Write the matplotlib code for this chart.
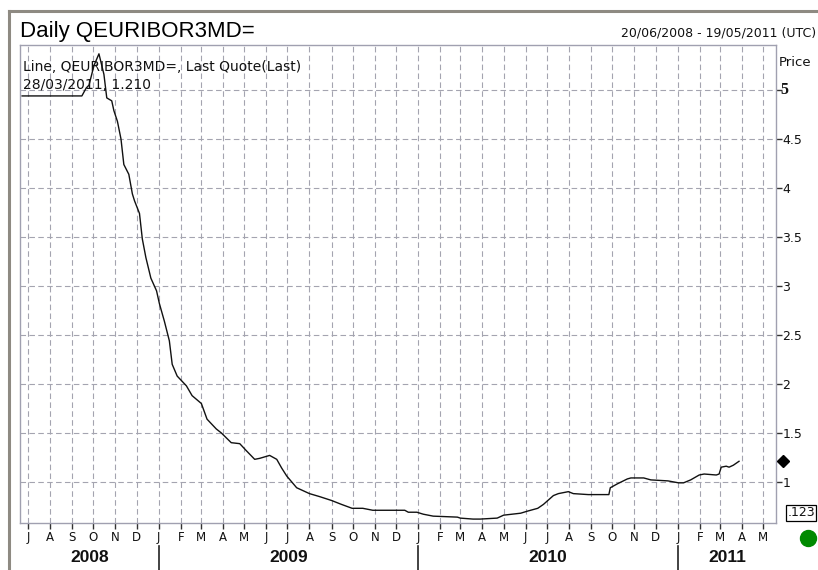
import matplotlib
matplotlib.use("Agg")
import matplotlib.pyplot as plt
import matplotlib.dates as mdates
from matplotlib.lines import Line2D
from matplotlib.transforms import blended_transform_factory
import datetime as dt

# ---------------- data ----------------
dates = ["2008-06-23", "2008-09-15", "2008-09-21", "2008-09-25", "2008-10-02",
         "2008-10-09", "2008-10-16", "2008-10-20", "2008-10-27", "2008-10-30",
         "2008-11-04", "2008-11-09", "2008-11-13", "2008-11-20", "2008-11-25",
         "2008-11-28", "2008-12-05", "2008-12-09", "2008-12-14", "2008-12-21",
         "2008-12-29", "2009-01-02", "2009-01-09", "2009-01-16", "2009-01-20",
         "2009-01-27", "2009-02-09", "2009-02-17", "2009-03-02", "2009-03-10",
         "2009-03-23", "2009-03-30", "2009-04-13", "2009-04-25", "2009-05-04",
         "2009-05-16", "2009-05-23", "2009-06-06", "2009-06-16", "2009-06-23",
         "2009-06-30", "2009-07-14", "2009-08-01", "2009-08-15", "2009-09-01",
         "2009-09-15", "2009-09-30", "2009-10-15", "2009-10-29", "2009-12-06",
         "2009-12-13", "2009-12-18", "2009-12-30", "2010-01-08", "2010-01-22",
         "2010-02-25", "2010-03-01", "2010-03-19", "2010-03-29", "2010-04-22",
         "2010-05-01", "2010-05-25", "2010-06-03", "2010-06-18", "2010-06-26",
         "2010-07-10", "2010-07-17", "2010-07-31", "2010-08-07", "2010-08-28",
         "2010-09-26", "2010-09-28", "2010-10-08", "2010-10-22", "2010-10-27",
         "2010-11-14", "2010-11-24", "2010-12-18", "2011-01-02", "2011-01-09",
         "2011-01-19", "2011-01-31", "2011-02-07", "2011-02-24", "2011-02-28",
         "2011-03-03", "2011-03-10", "2011-03-14", "2011-03-20", "2011-03-28"]
values = [4.94, 4.94, 5.02, 5.05, 5.25,
          5.37, 5.16, 4.92, 4.89, 4.79,
          4.68, 4.50, 4.24, 4.14, 3.94,
          3.87, 3.74, 3.48, 3.29, 3.08,
          2.95, 2.82, 2.64, 2.44, 2.20,
          2.08, 1.98, 1.88, 1.80, 1.64,
          1.54, 1.50, 1.40, 1.39, 1.32,
          1.23, 1.24, 1.27, 1.23, 1.14,
          1.06, 0.94, 0.88, 0.85, 0.81,
          0.77, 0.73, 0.73, 0.71, 0.71,
          0.71, 0.69, 0.69, 0.67, 0.65,
          0.64, 0.63, 0.62, 0.62, 0.63,
          0.66, 0.68, 0.70, 0.73, 0.77,
          0.86, 0.88, 0.90, 0.88, 0.87,
          0.87, 0.94, 0.98, 1.03, 1.04,
          1.04, 1.02, 1.01, 0.99, 0.99,
          1.02, 1.07, 1.08, 1.07, 1.08,
          1.15, 1.16, 1.15, 1.17, 1.21]

title = "Daily QEURIBOR3MD="
range_text = "20/06/2008 - 19/05/2011 (UTC)"
legend_line1 = "Line, QEURIBOR3MD=, Last Quote(Last)"
legend_line2 = "28/03/2011, 1.210"
y_ticks = [1, 1.5, 2, 2.5, 3, 3.5, 4, 4.5, 5]
y_tick_labels = ["1", "1.5", "2", "2.5", "3", "3.5", "4", "4.5", "5"]
years = [2008, 2009, 2010, 2011]
month_letters = ["J", "F", "M", "A", "M", "J", "J", "A", "S", "O", "N", "D"]
last_value = 1.21

# ---------------- figure ----------------
W, H = 818, 570
fig = plt.figure(figsize=(W / 100, H / 100), dpi=100)
fig.patch.set_facecolor("white")
plt.rcParams["font.family"] = ["Liberation Sans", "DejaVu Sans"]
SMALL = ["DejaVu Sans"]

def fx(x):
    return x / W

def fy(y):
    return 1 - y / H

L, R, T, B = 20, 776, 45, 523
ax = fig.add_axes([fx(L), fy(B), (R - L) / W, (B - T) / H])

x = [dt.datetime.strptime(d, "%Y-%m-%d") for d in dates]
ax.plot(x, values, color="#111111", lw=1.0, zorder=3)

xmin = dt.datetime(2008, 6, 20)
xmax = dt.datetime(2011, 5, 19)
ax.set_xlim(xmin, xmax)
ax.set_ylim(0.58, 5.46)

gridc = "#a4a4b0"
spinec = "#a0a0b0"
for s in ax.spines.values():
    s.set_color(spinec)
    s.set_linewidth(1.0)

# month ticks
months = []
d = dt.datetime(2008, 7, 1)
while d <= xmax:
    months.append(d)
    d = dt.datetime(d.year + (d.month // 12), d.month % 12 + 1, 1)
ax.set_xticks(months)
ax.set_xticklabels([month_letters[m.month - 1] for m in months])
ax.tick_params(axis="x", direction="out", length=4, width=1, color="#333333",
               pad=1.5, labelsize=8.5, labelcolor="#111111")
for lab in ax.get_xticklabels():
    lab.set_fontfamily(SMALL)

ax.yaxis.tick_right()
ax.set_yticks(y_ticks)
ax.set_yticklabels(["" if t == "5" else t for t in y_tick_labels])
ax.tick_params(axis="y", direction="out", length=4, width=1, color="#333333",
               pad=0.5, labelsize=9, labelcolor="#111111")
for lab in ax.get_yticklabels():
    lab.set_fontfamily(SMALL)
# the "5" label is drawn in a heavier face, as in the reference
bt_y = blended_transform_factory(ax.transAxes, ax.transData)
ax.text((780.5 - L) / (R - L), 5, "5", transform=bt_y, ha="left", va="center",
        fontsize=11.5, fontweight="bold", family=["Liberation Serif", "DejaVu Serif"],
        color="#111111", clip_on=False)

ax.grid(True, color=gridc, linestyle=(0, (5, 3)), lw=0.8, zorder=1)
ax.set_axisbelow(True)

# outer frame
framec = "#8e8a82"
fig.add_artist(Line2D([fx(9), fx(9)], [fy(11), fy(570)], color=framec, lw=2.2,
                      transform=fig.transFigure))
fig.add_artist(Line2D([fx(9), fx(818)], [fy(11), fy(11)], color=framec, lw=2.2,
                      transform=fig.transFigure))

# texts
fig.text(fx(20), fy(37), title, fontsize=16, ha="left", va="baseline", color="#000000")
fig.text(fx(816), fy(37), range_text, fontsize=9, ha="right", va="baseline",
         color="#111111", family=SMALL)
fig.text(fx(779), fy(62), "Price", fontsize=9.5, ha="left", va="center",
         color="#111111", family=SMALL)
fig.text(fx(23), fy(67), legend_line1, fontsize=10, ha="left", va="center",
         color="#111111", family=SMALL)
fig.text(fx(23), fy(85), legend_line2, fontsize=10, ha="left", va="center",
         color="#111111", family=SMALL)

# year labels and separators
bt = blended_transform_factory(ax.transData, fig.transFigure)
for yr in years:
    start = max(mdates.date2num(dt.datetime(yr, 1, 1)), mdates.date2num(xmin))
    end = min(mdates.date2num(dt.datetime(yr + 1, 1, 1)), mdates.date2num(xmax))
    fig.text((start + end) / 2, fy(557), str(yr), transform=bt, fontsize=12.5,
             fontweight="bold", ha="center", va="center", color="#111111")
    jan = mdates.date2num(dt.datetime(yr, 1, 1))
    if jan > mdates.date2num(xmin):
        fig.add_artist(Line2D([jan, jan], [fy(546), fy(570)], color="#222222",
                              lw=1.2, transform=bt))

# last value marker (diamond) outside right axis
ax.plot([(783 - L) / (R - L)], [last_value], marker="D", color="black",
        markersize=6, transform=bt_y, clip_on=False, zorder=5)

# .123 box and green circle
fig.text(fx(801), fy(513), ".123", fontsize=9, ha="center", va="center", color="#111111",
         family=SMALL,
         bbox=dict(boxstyle="square,pad=0.12", fc="white", ec="black", lw=0.9))
fig.add_artist(Line2D([fx(808)], [fy(538)], marker="o", markersize=11.5,
                      color="#008a00", transform=fig.transFigure))

fig.savefig("out.png", dpi=100, facecolor="white")
